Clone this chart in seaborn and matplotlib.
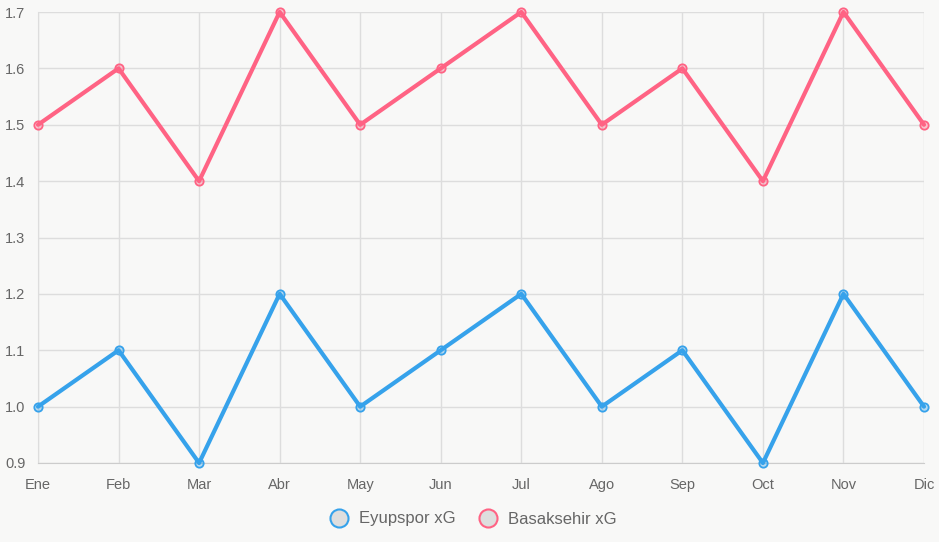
import numpy as np
import pandas as pd
import matplotlib
matplotlib.use('Agg')
import matplotlib.pyplot as plt
import seaborn as sns
from matplotlib.lines import Line2D

months = ['Ene', 'Feb', 'Mar', 'Abr', 'May', 'Jun', 'Jul', 'Ago', 'Sep', 'Oct', 'Nov', 'Dic']
eyupspor_xg = [1.0, 1.1, 0.9, 1.2, 1.0, 1.1, 1.2, 1.0, 1.1, 0.9, 1.2, 1.0]
basaksehir_xg = [1.5, 1.6, 1.4, 1.7, 1.5, 1.6, 1.7, 1.5, 1.6, 1.4, 1.7, 1.5]
series_names = ['Eyupspor xG', 'Basaksehir xG']
colors = ['#36a2eb', '#ff6384']

df = pd.DataFrame({
    'month': months * 2,
    'xG': eyupspor_xg + basaksehir_xg,
    'team': [series_names[0]] * 12 + [series_names[1]] * 12,
})
df['pos'] = list(range(12)) * 2

sns.set_style('white')
plt.rcParams['font.family'] = ['Liberation Sans', 'DejaVu Sans']
bg = '#f8f8f7'
fig = plt.figure(figsize=(9.39, 5.42), dpi=100, facecolor=bg)
ax = fig.add_axes([38 / 939, 79 / 542, 886 / 939, 451 / 542])
ax.set_facecolor(bg)

for name, col in zip(series_names, colors):
    sub = df[df['team'] == name]
    sns.lineplot(data=sub, x='pos', y='xG', ax=ax, color=col, linewidth=3,
                 marker='o', markersize=6, markerfacecolor=matplotlib.colors.to_rgba(col, 0.35),
                 markeredgecolor=col, markeredgewidth=1.3, legend=False, zorder=3,
                 clip_on=False)

ax.set_xlim(0, 11)
ax.set_ylim(0.9, 1.7)
ax.set_xticks(range(12))
ax.set_xticklabels(months)
ax.set_yticks(np.round(np.arange(0.9, 1.71, 0.1), 1))
ax.set_yticklabels([f'{v:.1f}' for v in np.arange(0.9, 1.71, 0.1)])
ax.grid(True, color='#dddddd', linewidth=1)
for s in ax.spines.values():
    s.set_visible(False)
ax.spines['bottom'].set_visible(True)
ax.spines['bottom'].set_color('#cccccc')
ax.spines['left'].set_visible(True)
ax.spines['left'].set_color('#dddddd')
ax.tick_params(axis='both', colors='#dddddd', labelcolor='#666666', labelsize=10.5,
               length=8, width=1, direction='out', pad=3)
ax.tick_params(axis='y', pad=1)
ax.set_xlabel('')
ax.set_ylabel('')

handles = [Line2D([], [], linestyle='none', marker='o', markersize=13,
                  markerfacecolor='#dedede', markeredgecolor=c, markeredgewidth=1.5)
           for c in colors]
fig.legend(handles, series_names, loc='center', bbox_to_anchor=(0.5, 1 - 519 / 542),
           ncol=2, frameon=False, fontsize=12, labelcolor='#666666',
           handletextpad=0.2, columnspacing=0.9)

fig.savefig('out.png', dpi=100, facecolor=bg)
